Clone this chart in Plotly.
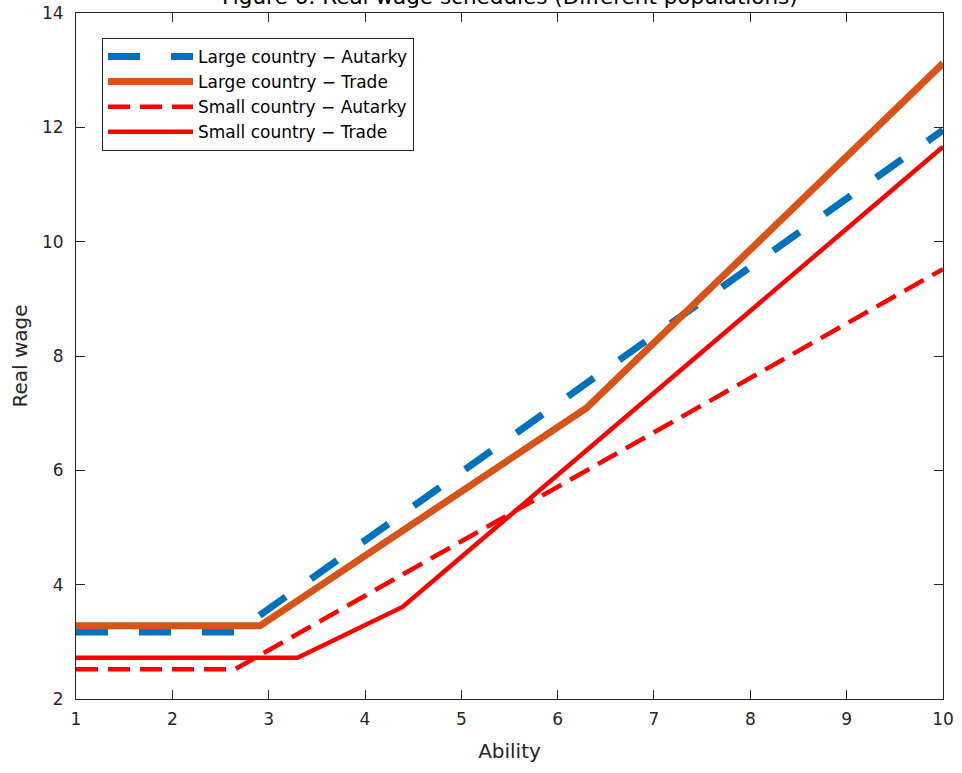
import plotly.graph_objects as go

# Data
ability_large_autarky = [1, 2.66, 10]
wage_large_autarky = [3.17, 3.17, 11.95]

ability_large_trade = [1, 2.91, 6.30, 10]
wage_large_trade = [3.28, 3.28, 7.09, 13.12]

ability_small_autarky = [1, 2.65, 10]
wage_small_autarky = [2.52, 2.52, 9.52]

ability_small_trade = [1, 3.30, 4.39, 10]
wage_small_trade = [2.72, 2.72, 3.61, 11.66]

x_ticks = [1, 2, 3, 4, 5, 6, 7, 8, 9, 10]
y_ticks = [2, 4, 6, 8, 10, 12, 14]

FONT = "DejaVu Sans"
AX = "#262626"

fig = go.Figure()
fig.add_trace(go.Scatter(x=ability_large_autarky, y=wage_large_autarky, mode="lines",
                         name="Large country − Autarky",
                         line=dict(color="#0072BD", width=7, dash="32px,31px")))
fig.add_trace(go.Scatter(x=ability_large_trade, y=wage_large_trade, mode="lines",
                         name="Large country − Trade",
                         line=dict(color="#D95319", width=7)))
fig.add_trace(go.Scatter(x=ability_small_autarky, y=wage_small_autarky, mode="lines",
                         name="Small country − Autarky",
                         line=dict(color="#FF0000", width=4.5, dash="22px,10px")))
fig.add_trace(go.Scatter(x=ability_small_trade, y=wage_small_trade, mode="lines",
                         name="Small country − Trade",
                         line=dict(color="#FF0000", width=4.5)))

axis_common = dict(showline=True, linecolor=AX, linewidth=1, mirror="ticks",
                   ticks="inside", ticklen=9, tickcolor=AX, tickwidth=1,
                   showgrid=False, zeroline=False,
                   tickfont=dict(family=FONT, size=17, color=AX))

fig.update_xaxes(range=[1, 10.0001], tickvals=x_ticks, ticklabelstandoff=5,
                 title=dict(text="Ability", font=dict(family=FONT, size=20, color=AX), standoff=15),
                 **axis_common)
fig.update_yaxes(range=[2, 14.0001], tickvals=y_ticks, ticklabelstandoff=8,
                 title=dict(text="Real wage", font=dict(family=FONT, size=20, color=AX), standoff=8),
                 **axis_common)

fig.add_annotation(text="Figure 6: Real wage schedules (Different populations)",
                   xref="paper", yref="paper", x=0.5, y=1.0, yshift=2,
                   xanchor="center", yanchor="bottom", showarrow=False,
                   font=dict(family=FONT, size=21.5, color="#000000"))

fig.update_layout(
    width=962, height=773,
    margin=dict(l=76, r=19, t=13, b=74, autoexpand=False),
    paper_bgcolor="white", plot_bgcolor="white",
    font=dict(family=FONT, color=AX),
    showlegend=True,
    legend=dict(x=0.03, y=0.9636, xanchor="left", yanchor="top",
                bgcolor="white", bordercolor=AX, borderwidth=1,
                font=dict(family=FONT, size=17, color="#000000"),
                tracegroupgap=0, itemwidth=85),
)

fig.write_html("out.html", config={"displayModeBar": False},
               post_script="document.body.style.margin='0px';")
